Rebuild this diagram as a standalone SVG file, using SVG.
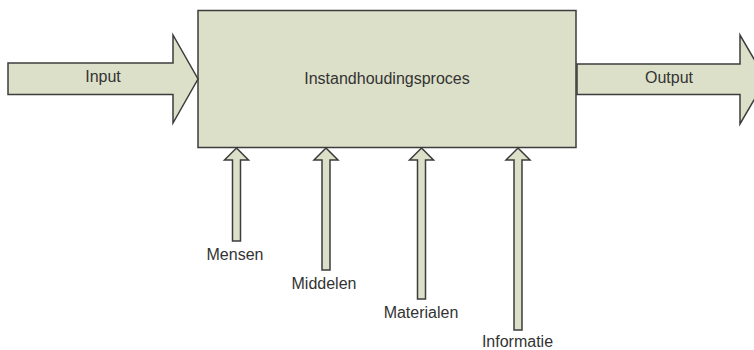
<svg xmlns="http://www.w3.org/2000/svg" width="754" height="350" viewBox="0 0 754 350">
  <style>
    .shape { fill: #dde0c9; stroke: #3c3c3c; stroke-width: 1.5; stroke-linejoin: miter; }
    .label { font-family: "Liberation Sans", Arial, sans-serif; font-size: 16px; fill: #333333; text-anchor: middle; }
  </style>
  <defs>
    <!-- thin upward arrow, tip at origin -->
    <path id="up-head" d="M0,0 L12,12 L4,12 L4,0 Z"/>
  </defs>

  <!-- main process block -->
  <g id="process">
    <rect class="shape" x="198" y="10.5" width="378" height="137" stroke-width="2"/>
    <text class="label" x="387" y="84">Instandhoudingsproces</text>
  </g>

  <g id="connectors">
    <!-- Input -->
    <g id="input">
      <polygon class="shape" points="8,63 173,63 173,35 198,79 173,123 173,94.5 8,94.5"/>
      <text class="label" x="103" y="82">Input</text>
    </g>
    <!-- Output -->
    <g id="output">
      <polygon class="shape" points="577,64 740,64 740,35 766,79.5 740,124 740,94.5 577,94.5"/>
      <text class="label" x="669" y="83">Output</text>
    </g>

    <!-- resource inputs -->
    <g id="mensen">
      <polygon class="shape" points="236.5,148 248.5,160 240.5,160 240.5,241 232.5,241 232.5,160 224.5,160"/>
      <text class="label" x="235" y="259.5">Mensen</text>
    </g>
    <g id="middelen">
      <polygon class="shape" points="326,148 338,160 330,160 330,270 322,270 322,160 314,160"/>
      <text class="label" x="324" y="288.5">Middelen</text>
    </g>
    <g id="materialen">
      <polygon class="shape" points="421.5,148 433.5,160 425.5,160 425.5,299 417.5,299 417.5,160 409.5,160"/>
      <text class="label" x="421" y="318">Materialen</text>
    </g>
    <g id="informatie">
      <polygon class="shape" points="518,148 530,160 522,160 522,330 514,330 514,160 506,160"/>
      <text class="label" x="517.5" y="347">Informatie</text>
    </g>
  </g>
</svg>
